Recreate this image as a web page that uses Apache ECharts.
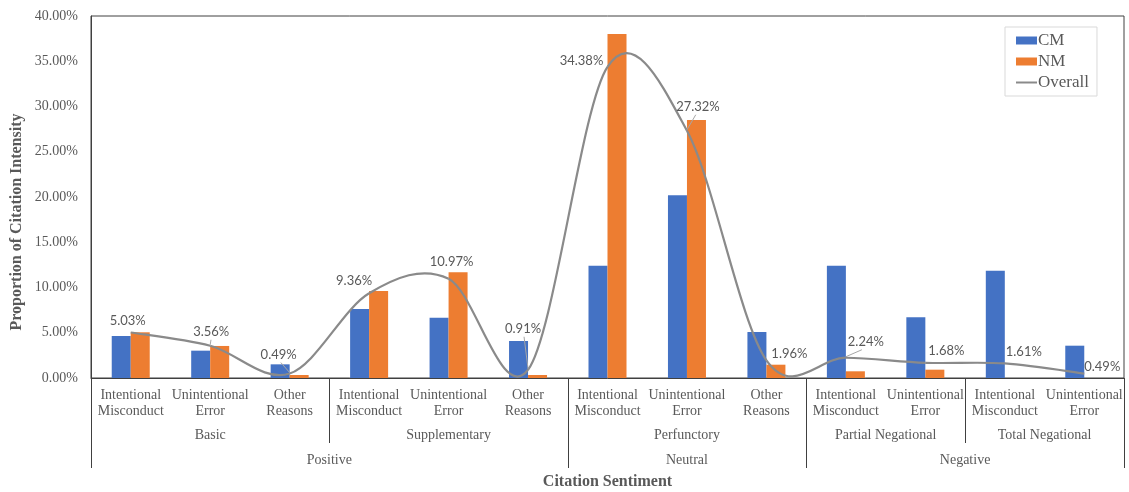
<!DOCTYPE html>
<html>
<head>
<meta charset="utf-8">
<script src="https://cdn.jsdelivr.net/npm/echarts@6/dist/echarts.min.js"></script>
<style>
  html, body { margin: 0; padding: 0; background: #ffffff; }
  #chart { width: 1129px; height: 492px; }
</style>
</head>
<body>
<div id="chart"></div>
<script>
// Citation intensity by reason, grouped by citation function and sentiment
const categories = [
  'Intentional\nMisconduct', 'Unintentional\nError', 'Other\nReasons',
  'Intentional\nMisconduct', 'Unintentional\nError', 'Other\nReasons',
  'Intentional\nMisconduct', 'Unintentional\nError', 'Other\nReasons',
  'Intentional\nMisconduct', 'Unintentional\nError',
  'Intentional\nMisconduct', 'Unintentional\nError'
];
const cmValues = [4.64, 3.02, 1.51, 7.62, 6.66, 4.09, 12.40, 20.20, 5.08, 12.40, 6.72, 11.86, 3.57];
const nmValues = [5.05, 3.54, 0.33, 9.61, 11.68, 0.33, 38.00, 28.50, 1.47, 0.74, 0.92, 0, 0];
const overallValues = [5.03, 3.56, 0.49, 9.36, 10.97, 0.91, 34.38, 27.32, 1.96, 2.24, 1.68, 1.61, 0.49];

// second level: citation function
const subGroupNames = ['Basic', 'Supplementary', 'Perfunctory', 'Partial Negational', 'Total Negational'];
const subGroupSizes = [3, 3, 3, 2, 2];
// third level: sentiment
const topGroupNames = ['Positive', 'Neutral', 'Negative'];
const topGroupSizes = [6, 3, 4];

// group boundaries and centres in category units
function spans(sizes) {
  const bounds = [0];
  const centers = [];
  sizes.forEach(s => {
    const start = bounds[bounds.length - 1];
    centers.push(start + s / 2);
    bounds.push(start + s);
  });
  return { bounds, centers };
}
const subSpans = spans(subGroupSizes);
const topSpans = spans(topGroupSizes);
const topBounds = topSpans.bounds;
const subOnlyBounds = subSpans.bounds.filter(b => topBounds.indexOf(b) < 0);

// label centre relative to its point on the Overall curve, and whether a leader line is drawn
const labelOffsets = [
  [-3, -12], [1, -14], [-11, -19], [-15, -12], [3, -17], [-5, -41], [-26, -6],
  [11, -24], [23, -6], [20, -16], [21, -12], [19, -12], [18, -7]
];
const labelLeaders = [false, true, true, false, false, true, false, true, false, true, false, false, false];

const serif = 'Liberation Serif';
const grey = '#595959';
const curveColor = '#8a8a8a';

const chart = echarts.init(document.getElementById('chart'), null, { renderer: 'canvas' });

const groupAxis = (names, centers, ticks, tickLen, labelMargin) => ({
  type: 'value',
  gridIndex: 0,
  position: 'bottom',
  min: 0,
  max: categories.length,
  axisLine: { show: false },
  splitLine: { show: false },
  axisTick: {
    show: true,
    customValues: ticks,
    length: tickLen,
    lineStyle: { color: '#404040', width: 1 }
  },
  axisLabel: {
    show: true,
    customValues: centers,
    margin: labelMargin,
    fontFamily: serif,
    fontSize: 14,
    color: grey,
    formatter: v => {
      const i = centers.findIndex(c => Math.abs(c - v) < 1e-6);
      return i >= 0 ? names[i] : '';
    }
  }
});

// Overall curve: cubic segments with Catmull-Rom style control points
function renderOverall(params, api) {
  const i = params.dataIndex;
  const n = overallValues.length;
  const pt = j => {
    const k = Math.max(0, Math.min(n - 1, j));
    return api.coord([k, overallValues[k]]);
  };
  const children = [];
  if (i < n - 1) {
    const p0 = pt(i - 1), p1 = pt(i), p2 = pt(i + 1), p3 = pt(i + 2);
    children.push({
      type: 'bezierCurve',
      shape: {
        x1: p1[0], y1: p1[1],
        cpx1: p1[0] + (p2[0] - p0[0]) / 6, cpy1: p1[1] + (p2[1] - p0[1]) / 6,
        cpx2: p2[0] - (p3[0] - p1[0]) / 6, cpy2: p2[1] - (p3[1] - p1[1]) / 6,
        x2: p2[0], y2: p2[1]
      },
      style: { stroke: curveColor, lineWidth: 2.2, fill: null }
    });
  }
  const p = pt(i);
  const lx = p[0] + labelOffsets[i][0];
  const ly = p[1] + labelOffsets[i][1];
  if (labelLeaders[i]) {
    children.push({
      type: 'line',
      shape: { x1: lx + (p[0] - lx) * 0.2, y1: ly + 8, x2: p[0], y2: p[1] - 1 },
      style: { stroke: '#a6a6a6', lineWidth: 1 }
    });
  }
  children.push({
    type: 'text',
    x: lx, y: ly,
    style: {
      text: overallValues[i].toFixed(2) + '%',
      align: 'center', verticalAlign: 'middle',
      font: '13px Lato', fill: grey
    }
  });
  return { type: 'group', children };
}

chart.setOption({
  backgroundColor: '#ffffff',
  animation: false,
  textStyle: { fontFamily: serif },
  grid: {
    left: 91, right: 5, top: 16, bottom: 114,
    outerBoundsMode: 'none',
    containLabel: false,
    show: true, borderColor: '#404040', borderWidth: 1
  },
  legend: {
    orient: 'vertical',
    left: 1005, top: 27,
    padding: [5, 8, 5, 11],
    itemGap: 4,
    itemWidth: 21,
    itemHeight: 8,
    borderColor: '#d9d9d9', borderWidth: 1,
    backgroundColor: '#ffffff',
    textStyle: { fontFamily: serif, fontSize: 17, color: grey, padding: [0, 0, 0, -4] },
    data: [
      { name: 'CM', icon: 'rect' },
      { name: 'NM', icon: 'rect' },
      { name: 'Overall', icon: 'path://M0,0H21V2H0Z', itemStyle: { color: curveColor } }
    ]
  },
  xAxis: [
    {
      type: 'category',
      data: categories,
      boundaryGap: true,
      axisLine: { show: true, lineStyle: { color: '#404040', width: 1 } },
      axisTick: { show: false },
      axisLabel: {
        interval: 0, margin: 9,
        fontFamily: serif, fontSize: 14, lineHeight: 16, color: grey
      },
      name: 'Citation Sentiment',
      nameLocation: 'middle',
      nameGap: 96,
      nameTextStyle: { fontFamily: serif, fontSize: 16, fontWeight: 'bold', color: grey }
    },
    groupAxis(subGroupNames, subSpans.centers, subOnlyBounds, 65, 50),
    groupAxis(topGroupNames, topSpans.centers, topBounds, 90, 75)
  ],
  yAxis: {
    type: 'value',
    min: 0, max: 40, interval: 5,
    axisLine: { show: true, lineStyle: { color: '#404040', width: 1 } },
    axisTick: { show: false },
    splitLine: { show: false },
    axisLabel: {
      margin: 13,
      fontFamily: serif, fontSize: 14, color: grey,
      formatter: v => v.toFixed(2) + '%'
    }
  },
  graphic: [{
    type: 'text',
    x: 17, y: 222,
    rotation: Math.PI / 2,
    style: {
      text: 'Proportion of Citation Intensity',
      font: 'bold 16px "Liberation Serif"',
      fill: grey,
      align: 'center',
      verticalAlign: 'middle'
    }
  }],
  series: [
    {
      name: 'CM', type: 'bar', xAxisIndex: 0,
      data: cmValues,
      barWidth: 19, barGap: '0%',
      itemStyle: { color: '#4472C4' }
    },
    {
      name: 'NM', type: 'bar', xAxisIndex: 0,
      data: nmValues,
      barWidth: 19, barGap: '0%',
      itemStyle: { color: '#ED7D31' }
    },
    {
      name: 'Overall', type: 'custom', xAxisIndex: 0,
      coordinateSystem: 'cartesian2d',
      clip: false,
      z: 5,
      itemStyle: { color: curveColor },
      encode: { x: 0, y: 1 },
      data: overallValues.map((v, i) => [i, v]),
      renderItem: renderOverall
    }
  ]
});
</script>
</body>
</html>
